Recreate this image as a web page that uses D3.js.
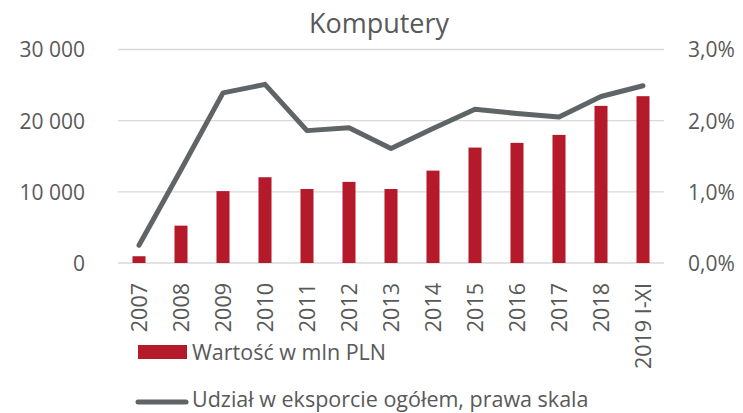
<!DOCTYPE html>
<html>
<head>
<meta charset="utf-8">
<script src="https://cdn.jsdelivr.net/npm/d3@7"></script>
<style>
  body { margin: 0; background: #fff; }
  text { font-family: "Open Sans", sans-serif; fill: #595959; }
</style>
</head>
<body>
<div id="chart"></div>
<script>
// data
const categories = ["2007", "2008", "2009", "2010", "2011", "2012", "2013", "2014", "2015", "2016", "2017", "2018", "2019 I-XI"];
const values = [950, 5250, 10100, 12050, 10400, 11400, 10400, 12980, 16220, 16880, 18000, 22080, 23440];
const share = [0.25, 1.31, 2.39, 2.51, 1.86, 1.90, 1.61, 1.89, 2.16, 2.10, 2.05, 2.34, 2.49];
const leftTicks = [0, 10000, 20000, 30000];
const rightTicks = [0, 1, 2, 3];

const width = 743, height = 413;
const plotLeft = 118, plotRight = 664, plotTop = 49.5, plotBottom = 263;

const svg = d3.select("#chart").append("svg")
    .attr("width", width)
    .attr("height", height);

const x = d3.scaleBand().domain(categories).range([plotLeft, plotRight]).paddingInner(0.69).paddingOuter(0.345);
const y = d3.scaleLinear().domain([0, 30000]).range([plotBottom, plotTop]);
const y2 = d3.scaleLinear().domain([0, 3]).range([plotBottom, plotTop]);

const fmtL = d => d3.format(",")(d).replace(/,/g, " ");
const fmtR = d => d3.format(".1f")(d).replace(".", ",") + "%";

// grid
svg.selectAll("line.grid")
    .data(leftTicks)
    .enter()
    .append("line")
    .attr("class", "grid")
    .attr("x1", plotLeft).attr("x2", plotRight)
    .attr("y1", d => y(d)).attr("y2", d => y(d))
    .style("stroke", "#d9d9d9")
    .style("stroke-width", 1.3);

// left axis
const axL = svg.append("g")
    .attr("transform", "translate(" + (plotLeft - 33) + ",0)")
    .call(d3.axisLeft(y).tickValues(leftTicks).tickFormat(fmtL).tickSize(0).tickPadding(0));
axL.select(".domain").remove();
axL.selectAll("text").style("font-size", "21px").attr("dy", "0.35em").style("fill", "#595959");

// right axis
const axR = svg.append("g")
    .attr("transform", "translate(" + (plotRight + 24) + ",0)")
    .call(d3.axisRight(y2).tickValues(rightTicks).tickFormat(fmtR).tickSize(0).tickPadding(0));
axR.select(".domain").remove();
axR.selectAll("text").style("font-size", "21px").attr("dy", "0.35em").style("fill", "#595959");

// bars
svg.selectAll("rect.bar")
    .data(values)
    .enter()
    .append("rect")
    .attr("class", "bar")
    .attr("x", (d, i) => x(categories[i]))
    .attr("width", x.bandwidth())
    .attr("y", d => y(d))
    .attr("height", d => plotBottom - y(d))
    .style("fill", "#b41a2a");

// line
const line = d3.line()
    .x((d, i) => x(categories[i]) + x.bandwidth() / 2)
    .y(d => y2(d));

svg.append("path")
    .datum(share)
    .attr("d", line)
    .style("fill", "none")
    .style("stroke", "#5f6466")
    .style("stroke-width", 5)
    .style("stroke-linejoin", "round")
    .style("stroke-linecap", "round");

// category labels
svg.selectAll("text.cat")
    .data(categories)
    .enter()
    .append("text")
    .attr("class", "cat")
    .attr("transform", d => "translate(" + (x(d) + x.bandwidth() / 2) + "," + 283 + ") rotate(-90)")
    .attr("text-anchor", "end")
    .attr("dy", "0.35em")
    .style("font-size", "21.5px")
    .text(d => d);

// title
svg.append("text")
    .attr("x", 379)
    .attr("y", 33)
    .attr("text-anchor", "middle")
    .style("font-size", "27px")
    .text("Komputery");

// legend
svg.append("rect")
    .attr("x", 138).attr("y", 345)
    .attr("width", 49).attr("height", 14)
    .style("fill", "#b41a2a");
svg.append("text")
    .attr("x", 192).attr("y", 360)
    .style("font-size", "21.5px")
    .text("Wartość w mln PLN");

svg.append("line")
    .attr("x1", 138).attr("x2", 186)
    .attr("y1", 402).attr("y2", 402)
    .style("stroke", "#5f6466")
    .style("stroke-width", 5)
    .style("stroke-linecap", "round");
svg.append("text")
    .attr("x", 192).attr("y", 407)
    .style("font-size", "21.5px")
    .text("Udział w eksporcie ogółem, prawa skala");
</script>
</body>
</html>
